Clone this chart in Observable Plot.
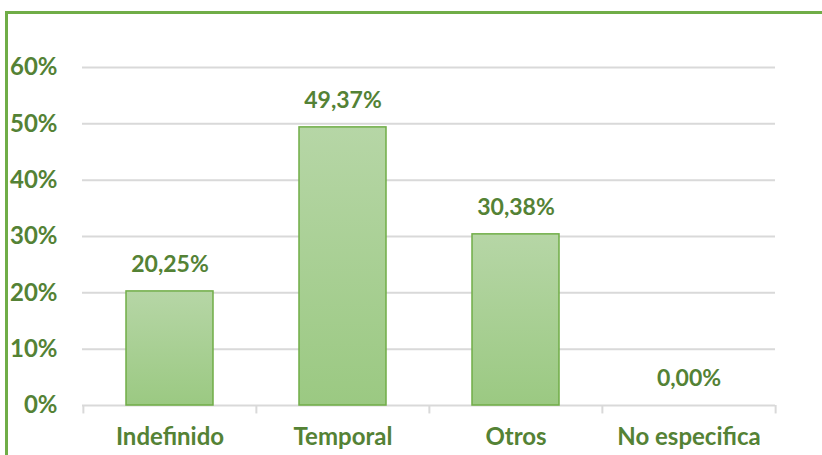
<!DOCTYPE html>
<html>
<head>
<meta charset="utf-8">
<script src="https://cdn.jsdelivr.net/npm/d3@7"></script>
<script src="https://cdn.jsdelivr.net/npm/@observablehq/plot@0.6"></script>
<style>
  body { margin: 0; background: #fff; overflow: hidden; }
  #wrap { position: relative; width: 822px; height: 455px; overflow: hidden; }
  #frame { position: absolute; left: 5px; top: 11px; width: 900px; height: 500px; border: 3px solid #70ad47; box-sizing: border-box; pointer-events: none; }
  svg { position: absolute; left: 0; top: 0; }
</style>
</head>
<body>
<div id="wrap"><div id="frame"></div></div>
<script>
const categories = ["Indefinido", "Temporal", "Otros", "No especifica"];
const values = [0.2025, 0.4937, 0.3038, 0.0];
const yTicks = [0, 0.1, 0.2, 0.3, 0.4, 0.5, 0.6];

const data = categories.map((c, i) => ({ cat: c, value: values[i] }));
const green = "#548235";
const fmt = v => (v * 100).toFixed(2).replace(".", ",") + "%";
const step = (775 - 82) / categories.length;

const chart = Plot.plot({
  width: 822,
  height: 455,
  marginLeft: 82,
  marginRight: 47,
  marginTop: 67,
  marginBottom: 50,
  style: { fontFamily: "Lato, sans-serif", fontWeight: "bold", fontSize: "24px", color: green, background: "transparent" },
  x: { domain: categories, padding: 0, label: null, tickSize: 0, tickPadding: 22 },
  y: { domain: [0, 0.6], ticks: yTicks, tickFormat: d => Math.round(d * 100) + "%", label: null, tickSize: 0, tickPadding: 25 },
  marks: [
    () => { const s = d3.create("svg:defs"); const g = s.append("linearGradient").attr("id", "barGrad").attr("x1", 0).attr("y1", 0).attr("x2", 0).attr("y2", 1);
      g.append("stop").attr("offset", "0%").attr("stop-color", "#b6d6a6");
      g.append("stop").attr("offset", "100%").attr("stop-color", "#9bc982");
      return s.node(); },
    Plot.ruleY(yTicks, { stroke: "#d9d9d9", strokeWidth: 2, strokeOpacity: 1 }),
    Plot.ruleX(categories, { x: d => d, y1: 0, y2: -0.015, dx: -step / 2, stroke: "#d9d9d9", strokeWidth: 2 }),
    Plot.ruleX(categories.slice(-1), { x: d => d, y1: 0, y2: -0.015, dx: step / 2, stroke: "#d9d9d9", strokeWidth: 2 }),
    Plot.barY(data, { x: "cat", y: "value", insetLeft: 43, insetRight: 43, fill: "url(#barGrad)", stroke: "#70ad47", strokeWidth: 1.5 }),
    Plot.text(data, { x: "cat", y: "value", text: d => fmt(d.value), dy: -27, fill: green, fontSize: 23, fontWeight: "bold" })
  ]
});
document.getElementById("wrap").insertBefore(chart, document.getElementById("frame"));
</script>
</body>
</html>
